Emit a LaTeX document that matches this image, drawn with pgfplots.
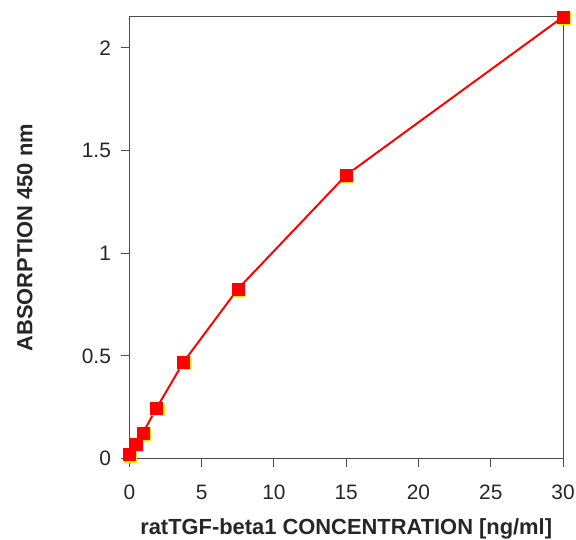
\documentclass[border=0pt]{standalone}
\usepackage{pgfplots}
\pgfplotsset{compat=1.18}
\usepackage{fontspec}
\setmainfont{Liberation Sans}

\begin{document}
\begin{tikzpicture}
  \begin{axis}[
      name=ax,
      scale only axis,
      width=436pt, height=444pt,
      xmin=0, xmax=30, ymin=0, ymax=2.15,
      xtick={0,5,...,30},
      ytick={0,0.5,1,1.5,2},
      axis x line*=bottom, axis y line*=left,
      tick align=outside,
      major tick length=8pt,
      tick style={black!70, line width=0.9pt},
      axis line style={black!70, line width=0.9pt},
      /pgf/number format/assume math mode=true,
      ticklabel style={font=\fontsize{21}{23}\selectfont, text=black!85},
      xticklabel style={yshift=-15pt},
      yticklabel style={xshift=-7pt},
      xlabel={\textbf{ratTGF-beta1 CONCENTRATION [ng/ml]}},
      ylabel={\textbf{ABSORPTION 450 nm}},
      label style={font=\fontsize{22}{24}\selectfont, text=black!85},
      xlabel style={at={(axis description cs:0.5,-0.158)}, anchor=center},
      ylabel style={at={(axis description cs:-0.241,0.5)}, anchor=center},
      clip=false,
  ]
  % frame on top and right (no ticks)
  \draw[black!70, line width=0.9pt] (axis cs:0,2.15) -- (axis cs:30,2.15) -- (axis cs:30,0);

  \addplot[red, line width=2pt, mark=none]
    coordinates {
      (0,0.02) (0.47,0.07) (0.94,0.125) (1.88,0.245)
      (3.75,0.47) (7.5,0.825) (15,1.38) (30,2.15)
    };
  % yellow shadow of the marks
  \addplot[only marks, mark=square*, mark size=6pt,
           mark options={draw=yellow, fill=yellow, xshift=1.3pt, yshift=-1.3pt}]
    coordinates {
      (0,0.02) (0.47,0.07) (0.94,0.125) (1.88,0.245)
      (3.75,0.47) (7.5,0.825) (15,1.38) (30,2.15)
    };
  \addplot[only marks, mark=square*, mark size=6pt,
           mark options={draw=red, fill=red}]
    coordinates {
      (0,0.02) (0.47,0.07) (0.94,0.125) (1.88,0.245)
      (3.75,0.47) (7.5,0.825) (15,1.38) (30,2.15)
    };
  \end{axis}
  \pgfresetboundingbox
  \path[use as bounding box] ([xshift=-130pt,yshift=-81pt]ax.south west)
    rectangle ([xshift=13pt,yshift=17pt]ax.north east);
\end{tikzpicture}
\end{document}
